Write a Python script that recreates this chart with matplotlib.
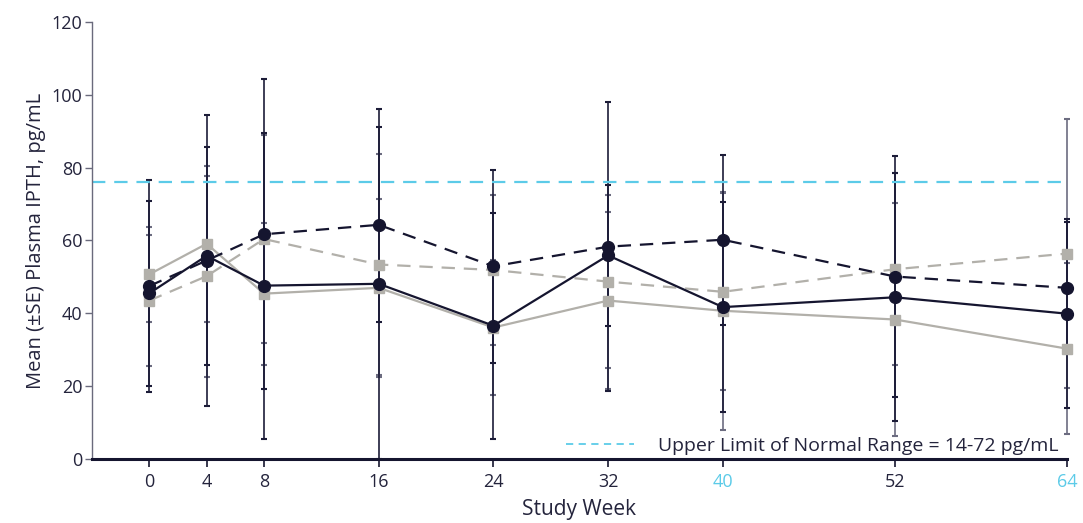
import matplotlib
matplotlib.use('Agg')
import matplotlib.pyplot as plt
from matplotlib.lines import Line2D

plt.rcParams['font.family'] = ['Open Sans', 'DejaVu Sans']
plt.rcParams['font.size'] = 13

# === data ===
weeks = [0, 4, 8, 16, 24, 32, 40, 52, 64]

navy_solid = [45.5, 55.8, 47.6, 48.1, 36.6, 55.9, 41.7, 44.4, 39.9]
navy_solid_se = [25.4, 30.0, 42.0, 48.0, 31.0, 19.4, 28.8, 34.0, 26.0]

navy_dash = [47.5, 54.5, 61.7, 64.3, 52.9, 58.3, 60.2, 50.1, 47.0]
navy_dash_se = [29.0, 40.0, 42.6, 26.8, 26.5, 39.7, 23.3, 33.0, 18.0]

gray_solid = [50.7, 59.1, 45.4, 47.0, 36.1, 43.5, 40.7, 38.3, 30.3]
gray_solid_se = [13.0, 21.4, 19.5, 24.5, 18.5, 24.3, 32.7, 32.0, 23.5]

gray_dash = [43.5, 50.2, 60.4, 53.4, 51.9, 48.7, 45.9, 52.1, 56.4]
gray_dash_se = [18.0, 27.6, 28.6, 30.4, 20.7, 23.7, 27.0, 26.3, 37.0]

upper_limit = 76
tick_labels = ['0', '4', '8', '16', '24', '32', '40', '52', '64']
highlight_ticks = ['40', '64']

# === colours ===
NAVY = '#15152f'
GRAY = '#b2b0aa'
ERR_NAVY = '#1c1c38'
ERR_GRAY = '#6c6c80'
CYAN = '#5ccbe8'
TEXT = '#24243c'

fig = plt.figure(figsize=(10.83, 5.23), dpi=100)
ax = fig.add_axes([0.0849, 0.1224, 0.9003, 0.8356])

# error bars first (behind lines)
for y, se, c in [(gray_solid, gray_solid_se, ERR_GRAY),
                 (gray_dash, gray_dash_se, ERR_GRAY),
                 (navy_solid, navy_solid_se, ERR_NAVY),
                 (navy_dash, navy_dash_se, ERR_NAVY)]:
    _, caps, bars = ax.errorbar(weeks, y, yerr=se, fmt='none', ecolor=c,
                                elinewidth=1.2, capsize=2, capthick=1.5, zorder=1)
    for art in list(caps) + list(bars):
        art.set_clip_on(False)

ax.axhline(upper_limit, color=CYAN, lw=1.6, dashes=(6, 4), zorder=2)

ax.plot(weeks, gray_solid, color=GRAY, lw=1.6, marker='s', ms=7.5,
        mec=GRAY, mfc=GRAY, zorder=3, clip_on=False)
ax.plot(weeks, gray_dash, color=GRAY, lw=1.6, dashes=(6, 4), marker='s', ms=7.5,
        mec=GRAY, mfc=GRAY, zorder=3, clip_on=False)
ax.plot(weeks, navy_dash, color=NAVY, lw=1.6, dashes=(6, 4), marker='o', ms=8.5,
        zorder=4, clip_on=False)
ax.plot(weeks, navy_solid, color=NAVY, lw=1.6, marker='o', ms=8.5,
        zorder=4, clip_on=False)

ax.set_xlim(-4, 64)
ax.set_ylim(0, 120)
ax.set_xticks(weeks)
ax.set_xticklabels(tick_labels)
ax.set_yticks(range(0, 121, 20))

for lbl in ax.get_xticklabels():
    lbl.set_color(CYAN if lbl.get_text() in highlight_ticks else TEXT)
for lbl in ax.get_yticklabels():
    lbl.set_color(TEXT)

ax.spines['top'].set_visible(False)
ax.spines['right'].set_visible(False)
ax.spines['left'].set_color('#6a6a7c')
ax.spines['left'].set_linewidth(1.0)
ax.spines['bottom'].set_color(NAVY)
ax.spines['bottom'].set_linewidth(2.2)
ax.spines['bottom'].set_zorder(5)
ax.tick_params(axis='y', direction='out', length=5, width=1, color='#6a6a7c', pad=2)
ax.tick_params(axis='x', direction='out', length=6, width=1.2, color=NAVY, pad=4)

ax.set_xlabel('Study Week', color=TEXT, fontsize=15, labelpad=6)
ax.set_ylabel('Mean (\u00b1SE) Plasma IPTH, pg/mL', color=TEXT, fontsize=14.5, labelpad=4)

handle = Line2D([], [], color=CYAN, lw=1.3, dashes=(4, 3))
ax.legend([handle], ['Upper Limit of Normal Range = 14-72 pg/mL'],
          loc='lower right', bbox_to_anchor=(1.009, -0.03), frameon=False,
          handlelength=3.5, handletextpad=1.2, labelcolor=TEXT, fontsize=14)

plt.savefig('out.png', dpi=100)
